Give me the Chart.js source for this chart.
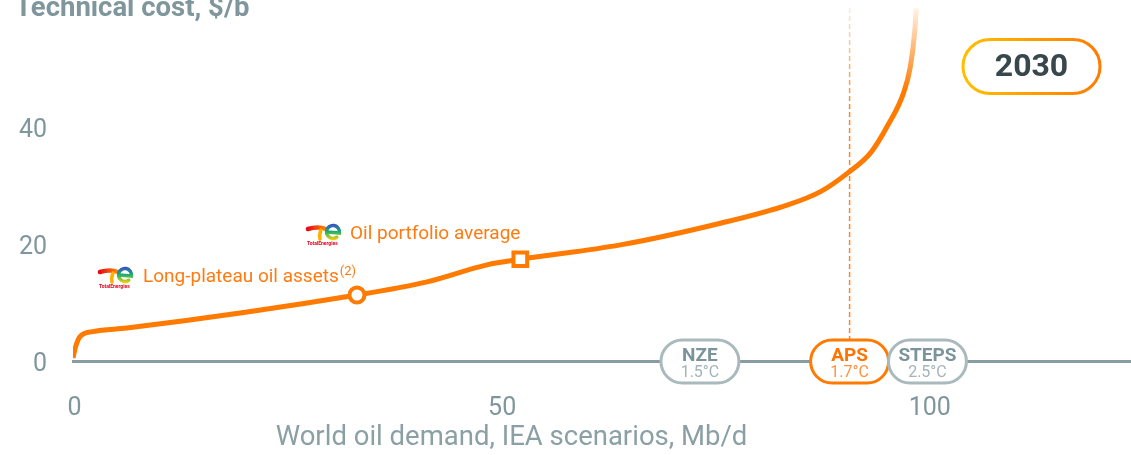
<!DOCTYPE html>
<html>
<head>
<meta charset="utf-8">
<script src="https://cdn.jsdelivr.net/npm/chart.js@4.4.1/dist/chart.umd.min.js"></script>
<style>
html, body { margin: 0; padding: 0; background: #fff; }
#wrap { position: relative; width: 1131px; height: 455px; }
</style>
</head>
<body>
<div id="wrap"><canvas id="costChart" width="1131" height="455"></canvas></div>
<script>
// cost curve, 2030
let curveDemand = [0, 0.3, 0.8, 2.3, 6.3, 33.2, 41.4, 48.4, 52.3, 64.0, 75.7, 83.5, 87.4, 90.6, 93.3, 95.3, 97.1, 97.9, 98.4, 98.6];
let curveCost = [0.6, 2.5, 4.2, 5.1, 5.7, 11.35, 13.6, 16.5, 17.45, 19.9, 23.6, 26.7, 29.0, 32.2, 35.7, 40.4, 45.8, 50.3, 56.1, 60.3];

// TotalEnergies markers
let markerNames = ["Long-plateau oil assets", "Oil portfolio average"];
let markerDemand = [33.2, 52.3];
let markerCost = [11.35, 17.45];

// IEA scenarios
let scenarioNames = ["NZE", "APS", "STEPS"];
let scenarioTemps = ["1.5°C", "1.7°C", "2.5°C"];
let scenarioDemand = [73.3, 90.8, 99.9];

let xTicks = [0, 50, 100];
let yTicks = [0, 20, 40];

const orange = "#ff7a00";
const gray = "#7f979c";
const axisGray = "#879da2";
const font = "Roboto, 'Noto Sans', sans-serif";

function roundPill(ctx, x, y, w, h) {
    let r = h / 2;
    ctx.beginPath();
    ctx.moveTo(x + r, y);
    ctx.lineTo(x + w - r, y);
    ctx.arc(x + w - r, y + r, r, -Math.PI / 2, Math.PI / 2);
    ctx.lineTo(x + r, y + h);
    ctx.arc(x + r, y + r, r, Math.PI / 2, Math.PI * 1.5);
    ctx.closePath();
}

function drawLogo(ctx, x, y) {
    ctx.save();
    ctx.lineCap = "round";
    // T
    let tg = ctx.createLinearGradient(x, 0, x + 20, 0);
    tg.addColorStop(0, "#e2001a");
    tg.addColorStop(1, "#ff8a00");
    ctx.strokeStyle = tg;
    ctx.lineWidth = 4.5;
    ctx.beginPath();
    ctx.moveTo(x + 2, y + 7);
    ctx.quadraticCurveTo(x + 12, y + 4, x + 20, y + 7);
    ctx.stroke();
    ctx.strokeStyle = "#ffb000";
    ctx.lineWidth = 3.5;
    ctx.beginPath();
    ctx.moveTo(x + 15, y + 8);
    ctx.quadraticCurveTo(x + 13, y + 13, x + 14, y + 17);
    ctx.stroke();
    // e
    let eg = ctx.createLinearGradient(0, y + 2, 0, y + 18);
    eg.addColorStop(0, "#3a4bd0");
    eg.addColorStop(0.5, "#1fb36b");
    eg.addColorStop(1, "#ffd000");
    ctx.strokeStyle = eg;
    ctx.lineWidth = 3.5;
    ctx.beginPath();
    ctx.arc(x + 27, y + 10, 6.5, Math.PI * 0.3, Math.PI * 2.05);
    ctx.lineTo(x + 21, y + 10);
    ctx.stroke();
    ctx.fillStyle = "#e2001a";
    ctx.font = "bold 5px " + font;
    ctx.textBaseline = "alphabetic";
    ctx.fillText("TotalEnergies", x + 1, y + 23);
    ctx.restore();
}

const costPlugin = {
    id: "costPlugin",
    beforeDatasetsDraw(chart) {
        let ctx = chart.ctx;
        let area = chart.chartArea;
        let xs = chart.scales.x;
        // APS dashed guide
        let px = xs.getPixelForValue(scenarioDemand[1]);
        let g = ctx.createLinearGradient(0, area.top, 0, area.bottom);
        g.addColorStop(0, "rgba(255,122,0,0.1)");
        g.addColorStop(0.3, "rgba(255,122,0,0.9)");
        g.addColorStop(1, "rgba(255,122,0,0.9)");
        ctx.save();
        ctx.strokeStyle = g;
        ctx.lineWidth = 1.5;
        ctx.setLineDash([5, 3]);
        ctx.beginPath();
        ctx.moveTo(px, area.top + 8);
        ctx.lineTo(px, area.bottom - 20);
        ctx.stroke();
        ctx.restore();
    },
    afterDatasetsDraw(chart) {
        let ctx = chart.ctx;
        let area = chart.chartArea;
        let xs = chart.scales.x;
        ctx.save();

        // axis titles
        ctx.fillStyle = gray;
        ctx.font = "bold 27.5px " + font;
        ctx.textAlign = "left";
        ctx.textBaseline = "alphabetic";
        ctx.fillText("Technical cost, $/b", 15, 16);

        ctx.fillStyle = "#8aa0a5";
        ctx.font = "27.5px " + font;
        ctx.textAlign = "center";
        ctx.textBaseline = "middle";
        ctx.fillText("World oil demand, IEA scenarios, Mb/d", 511.5, 438);

        // scenario pills
        for (let i = 0; i < scenarioNames.length; i++) {
            let cx = xs.getPixelForValue(scenarioDemand[i]);
            let cy = area.bottom;
            let isAps = scenarioNames[i] == "APS";
            roundPill(ctx, cx - 39, cy - 21.5, 78, 43);
            ctx.fillStyle = "#fff";
            ctx.fill();
            ctx.lineWidth = 3;
            ctx.strokeStyle = isAps ? orange : "#a9b9bc";
            ctx.stroke();
            ctx.textAlign = "center";
            ctx.textBaseline = "middle";
            ctx.fillStyle = isAps ? "#ff7300" : "#7a9499";
            ctx.font = "bold 19px " + font;
            ctx.fillText(scenarioNames[i], cx, cy - 5.5);
            ctx.fillStyle = isAps ? "#ff923f" : "#a3b4b8";
            ctx.font = "16px " + font;
            ctx.fillText(scenarioTemps[i], cx, cy + 11.5);
        }

        // 2030 badge
        let bg = ctx.createLinearGradient(962, 0, 1101, 0);
        bg.addColorStop(0, "#ffc000");
        bg.addColorStop(1, "#ff7a00");
        roundPill(ctx, 963, 39.5, 137, 54);
        ctx.fillStyle = "#fff";
        ctx.fill();
        ctx.lineWidth = 3;
        ctx.strokeStyle = bg;
        ctx.stroke();
        ctx.fillStyle = "#37474c";
        ctx.font = "bold 32px " + font;
        ctx.textAlign = "center";
        ctx.textBaseline = "middle";
        ctx.fillText("2030", 1031.5, 68);

        // marker labels
        ctx.textAlign = "left";
        ctx.textBaseline = "middle";
        ctx.fillStyle = "#ff7b12";
        ctx.font = "19px " + font;
        ctx.fillText(markerNames[0], 143, 277);
        let w0 = ctx.measureText(markerNames[0]).width;
        ctx.font = "13px " + font;
        ctx.fillText("(2)", 143 + w0 + 1, 272);
        ctx.font = "19px " + font;
        ctx.fillText(markerNames[1], 350, 234);
        drawLogo(ctx, 98, 265);
        drawLogo(ctx, 306, 222);

        ctx.restore();
    }
};

let costCanvas = document.getElementById("costChart").getContext("2d");

new Chart(costCanvas, {
    type: "line",
    data: {
        datasets: [{
            data: markerDemand.map((x, i) => ({ x: x, y: markerCost[i] })),
            showLine: false,
            pointStyle: ["circle", "rect"],
            pointRadius: [7.5, 9.7],
            pointBorderWidth: 4,
            pointBorderColor: orange,
            pointBackgroundColor: "#fff",
            order: 1,
        }, {
            data: curveDemand.map((x, i) => ({ x: x, y: curveCost[i] })),
            borderColor: function(c) {
                let area = c.chart.chartArea;
                if (!area) return orange;
                let g = c.chart.ctx.createLinearGradient(0, area.top, 0, area.bottom);
                g.addColorStop(0, "rgba(255,122,0,0)");
                g.addColorStop(0.03, "rgba(255,122,0,0.12)");
                g.addColorStop(0.25, "rgba(255,122,0,1)");
                g.addColorStop(1, "rgba(255,122,0,1)");
                return g;
            },
            borderWidth: 5,
            pointRadius: 0,
            cubicInterpolationMode: "monotone",
            fill: false,
            order: 2,
        }, ],
    },
    options: {
        responsive: false,
        animation: false,
        layout: { padding: 0, autoPadding: false },
        plugins: {
            legend: { display: false },
            tooltip: { enabled: false },
        },
        scales: {
            x: {
                type: "linear",
                min: 0,
                max: 123.7,
                grid: { display: false, drawTicks: false },
                border: { display: true, color: axisGray, width: 3 },
                ticks: {
                    color: gray,
                    font: { family: font, size: 25 },
                    padding: 32,
                    labelOffset: 1.5,
                    maxRotation: 0,
                },
                afterBuildTicks: function(s) {
                    s.ticks = xTicks.map(v => ({ value: v }));
                },
                afterFit: function(s) {
                    s.height = 93.5;
                    s.paddingLeft = 0;
                    s.paddingRight = 0;
                },
            },
            y: {
                min: 0,
                max: 61.7,
                grid: { display: false, drawTicks: false },
                border: { display: false },
                ticks: {
                    color: gray,
                    font: { family: font, size: 25 },
                    padding: 26,
                    labelOffset: 3.5,
                },
                afterBuildTicks: function(s) {
                    s.ticks = yTicks.map(v => ({ value: v }));
                },
                afterFit: function(s) {
                    s.width = 73;
                    s.paddingTop = 0;
                    s.paddingBottom = 0;
                },
            },
        },
    },
    plugins: [costPlugin],
});
</script>
</body>
</html>
